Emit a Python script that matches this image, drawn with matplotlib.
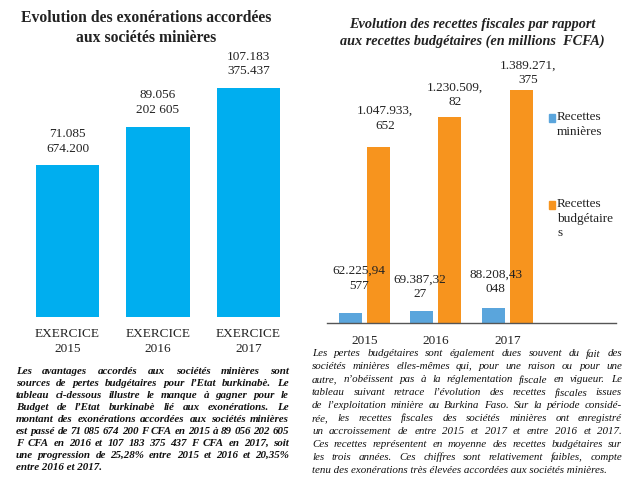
import matplotlib
matplotlib.use("Agg")
import matplotlib.pyplot as plt
from matplotlib.patches import Rectangle
import numpy as np

plt.rcParams["font.family"] = ["Liberation Serif", "DejaVu Serif"]

# left chart: exonerations (milliards FCFA)
exo_categories = ["EXERCICE\n2015", "EXERCICE\n2016", "EXERCICE\n2017"]
exo_values = [71.085674200, 89.056202605, 107.183375437]
exo_labels = ["71.085\n674.200", "89.056\n202 605", "107.183\n375.437"]

# right chart: recettes (millions FCFA)
years = ["2015", "2016", "2017"]
recettes_minieres = [62225.94577, 69387.3227, 88208.43048]
recettes_budget = [1047933.652, 1230509.82, 1389271.375]
minieres_labels = ["62.225,94\n577", "69.387,32\n27", "88.208,43\n048"]
budget_labels = ["1.047.933,\n652", "1.230.509,\n82", "1.389.271,\n375"]

text_left = [
    "Les avantages accordés aux sociétés minières sont",
    "sources de pertes budgétaires pour l’Etat burkinabè. Le",
    "tableau ci-dessous illustre le manque à gagner pour le",
    "Budget de l’Etat burkinabè lié aux exonérations. Le",
    "montant des exonérations accordées aux sociétés minières",
    "est passé de 71 085 674 200 F CFA en 2015 à 89 056 202 605",
    "F CFA en 2016 et 107 183 375 437 F CFA en 2017, soit",
    "une progression de 25,28% entre 2015 et 2016 et 20,35%",
    "entre 2016 et 2017.",
]
text_right = [
    "Les pertes budgétaires sont également dues souvent du fait des",
    "sociétés minières elles-mêmes qui, pour une raison ou pour une",
    "autre, n’obéissent pas à la réglementation fiscale en vigueur. Le",
    "tableau suivant retrace l’évolution des recettes fiscales issues",
    "de l’exploitation minière au Burkina Faso. Sur la période considé-",
    "rée, les recettes fiscales des sociétés minières ont enregistré",
    "un accroissement de entre 2015 et 2017 et entre 2016 et 2017.",
    "Ces recettes représentent en moyenne des recettes budgétaires sur",
    "les trois années. Ces chiffres sont relativement faibles, compte",
    "tenu des exonérations très élevées accordées aux sociétés minières.",
]

W, H = 624, 488
fig = plt.figure(figsize=(W / 100, H / 100), dpi=100)


def px_axes(x0, y_top, x1, y_bot):
    return fig.add_axes([x0 / W, 1 - y_bot / H, (x1 - x0) / W, (y_bot - y_top) / H])


# ---- left chart
ax1 = px_axes(13.2, 50, 302.8, 317)
x = np.arange(len(exo_values))
bars = ax1.bar(x, exo_values, width=0.7, color="#00AEEF")
ax1.set_xlim(-0.6, 2.6)
ax1.set_ylim(0, 125)
for b, lab in zip(bars, exo_labels):
    ax1.annotate(lab, (b.get_x() + b.get_width() / 2, b.get_height()),
                 xytext=(0, 24), textcoords="offset pixels", ha="center",
                 va="center", fontsize=9.5, linespacing=1.3, color="#222222")
ax1.set_xticks(x)
ax1.set_xticklabels(exo_categories, fontsize=9.5, linespacing=1.35, color="#222222")
ax1.tick_params(axis="x", length=0, pad=8)
ax1.set_yticks([])
for s in ax1.spines.values():
    s.set_visible(False)
fig.text(146 / W, 1 - 28 / H, "Evolution des exonérations accordées\naux sociétés minières",
         ha="center", va="center", fontsize=11.3, fontweight="bold",
         linespacing=1.3, color="#222222")

# ---- right chart
ax2 = px_axes(327, 55, 616, 323)
x2 = np.arange(len(years))
bw = 0.32
b1 = ax2.bar(x2 - 0.195, recettes_minieres, width=bw, color="#5AA5DC")
b2 = ax2.bar(x2 + 0.195, recettes_budget, width=bw, color="#F7941E")
ax2.set_xlim(-0.52, 3.52)
ax2.set_ylim(0, 1598000)
blue_off = [(8.5, 34), (-2, 24.5), (2.5, 26.5)]
orange_off = [(7, 29), (5, 22), (7, 17)]
for b, lab, off in zip(b1, minieres_labels, blue_off):
    ax2.annotate(lab, (b.get_x() + b.get_width() / 2, b.get_height()),
                 xytext=off, textcoords="offset pixels", ha="center",
                 va="center", fontsize=9.5, linespacing=1.3, color="#222222")
for b, lab, off in zip(b2, budget_labels, orange_off):
    ax2.annotate(lab, (b.get_x() + b.get_width() / 2, b.get_height()),
                 xytext=off, textcoords="offset pixels", ha="center",
                 va="center", fontsize=9.5, linespacing=1.3, color="#222222")
ax2.set_xticks(x2)
ax2.set_xticklabels(years, fontsize=9.5, color="#222222")
ax2.tick_params(axis="x", length=0, pad=9)
ax2.set_yticks([])
for k, s in ax2.spines.items():
    s.set_visible(k == "bottom")
ax2.spines["bottom"].set_color("#555555")
ax2.spines["bottom"].set_linewidth(1.0)
fig.text(472 / W, 1 - 33 / H,
         "Evolution des recettes fiscales par rapport\naux recettes budgétaires (en millions  FCFA)",
         ha="center", va="center", fontsize=10.3, fontweight="bold", style="italic",
         linespacing=1.35, color="#222222")

# legend
for yy, col, lab in [(118, "#5AA5DC", "Recettes\nminières"),
                     (205, "#F7941E", "Recettes\nbudgétaire\ns")]:
    fig.patches.append(Rectangle((549 / W, 1 - (yy + 3.5) / H), 6 / W, 7 / H,
                                 transform=fig.transFigure, color=col))
    fig.text(557 / W, 1 - (yy - 7) / H, lab, ha="left", va="top", fontsize=9.5,
             linespacing=1.3, color="#222222")


# ---- justified paragraphs
def justified(lines, x0, x1, y0, dy, last_full=False, **kw):
    renderer = fig.canvas.get_renderer()
    for i, line in enumerate(lines):
        y = 1 - (y0 + i * dy) / H
        words = line.split()
        if (i == len(lines) - 1 and not last_full) or len(words) == 1:
            fig.text(x0 / W, y, line, va="center", **kw)
            continue
        texts = [fig.text(0, y, w, va="center", **kw) for w in words]
        widths = [t.get_window_extent(renderer).width for t in texts]
        gap = max((x1 - x0 - sum(widths)) / (len(words) - 1), 1.5)
        xx = x0
        for t, w in zip(texts, widths):
            t.set_x(xx / W)
            xx += w + gap


justified(text_left, 16, 289, 371, 12.1, fontsize=7.9, style="italic",
          fontweight="bold", color="#111111")
justified(text_right, 312, 622, 354, 12.9, fontsize=7.9, style="italic",
          color="#111111")

fig.savefig("out.png", dpi=100)
